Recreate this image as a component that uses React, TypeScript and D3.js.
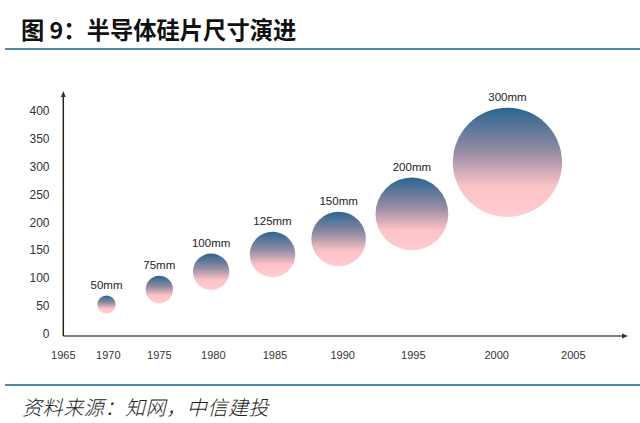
import { useEffect, useRef } from 'react';
import * as d3 from 'd3';

// x axis tick labels (years) and y axis ticks
const yearTicks = [1965, 1970, 1975, 1980, 1985, 1990, 1995, 2000, 2005];
const valueTicks = [0, 50, 100, 150, 200, 250, 300, 350, 400];

// wafer bubbles
const waferLabels = ['50mm', '75mm', '100mm', '125mm', '150mm', '200mm', '300mm'];
const waferSizes = [50, 75, 100, 125, 150, 200, 300];
const waferYears = [1969.8, 1975, 1979.8, 1984.8, 1989.7, 1994.9, 2000.7];
const waferValues = [52, 79, 111, 142, 170, 215, 308];

const title = '图 9：半导体硅片尺寸演进';
const source = '资料来源：知网，中信建投';

const width = 640;
const height = 423;

export default function App() {
  const svgRef = useRef<SVGSVGElement>(null);

  useEffect(() => {
    if (!svgRef.current) return;
    const svg = d3.select(svgRef.current);
    svg.selectAll('*').remove();

    const axisColor = '#333';
    const ruleColor = '#4f86a1';
    const numFont = 'Arial, "Liberation Sans", sans-serif';
    const cjkFont = '"Noto Sans CJK SC", sans-serif';

    svg.append('rect').attr('width', width).attr('height', height).attr('fill', '#fff');

    // the label spacing of the original axis is uneven, so the year scale is piecewise
    const x = d3.scaleLinear()
      .domain(yearTicks)
      .range([63.3, 108.3, 159.3, 213.3, 275, 342.7, 413.3, 496.7, 573.3]);

    const y = d3.scaleLinear()
      .domain([0, 400])
      .range([333.4, 111.2]);

    const r = d3.scaleLinear()
      .domain([0, 300])
      .range([0, 54.6]);

    const defs = svg.append('defs');
    const grad = defs.append('linearGradient')
      .attr('id', 'wafer')
      .attr('x1', 0).attr('y1', 0)
      .attr('x2', 0).attr('y2', 1);
    grad.append('stop').attr('offset', '0%').attr('stop-color', '#2a6691');
    grad.append('stop').attr('offset', '40%').attr('stop-color', '#958ba3');
    grad.append('stop').attr('offset', '72%').attr('stop-color', '#fcc3c7');
    grad.append('stop').attr('offset', '100%').attr('stop-color', '#ffcdd0');

    defs.append('marker')
      .attr('id', 'arrow')
      .attr('viewBox', '0 0 10 10')
      .attr('refX', 5).attr('refY', 5)
      .attr('markerWidth', 4).attr('markerHeight', 4)
      .attr('orient', 'auto')
      .append('path')
      .attr('d', 'M0,1L10,5L0,9Z')
      .attr('fill', axisColor);

    // title + rules
    svg.append('text')
      .attr('x', 21)
      .attr('y', 39)
      .style('font-family', cjkFont)
      .style('font-size', '23.3px')
      .style('font-weight', 'bold')
      .style('fill', '#111')
      .text(title);

    svg.append('line')
      .attr('x1', 5).attr('x2', width)
      .attr('y1', 49).attr('y2', 49)
      .attr('stroke', ruleColor)
      .attr('stroke-width', 2);

    svg.append('line')
      .attr('x1', 5).attr('x2', width)
      .attr('y1', 385).attr('y2', 385)
      .attr('stroke', ruleColor)
      .attr('stroke-width', 2);

    svg.append('text')
      .attr('x', 22)
      .attr('y', 415)
      .style('font-family', cjkFont)
      .style('font-size', '20px')
      .style('font-style', 'italic')
      .style('font-weight', 300)
      .style('letter-spacing', '0.6px')
      .style('fill', '#222')
      .text(source);

    // axes
    const baseY = y(0) + 2.6;
    svg.append('line')
      .attr('x1', x(1965)).attr('x2', 625)
      .attr('y1', baseY).attr('y2', baseY)
      .attr('stroke', '#555')
      .attr('stroke-width', 1.5)
      .attr('marker-end', 'url(#arrow)');

    svg.append('line')
      .attr('x1', x(1965)).attr('x2', x(1965))
      .attr('y1', baseY).attr('y2', 94)
      .attr('stroke', '#222')
      .attr('stroke-width', 1.5)
      .attr('marker-end', 'url(#arrow)');

    svg.append('g')
      .selectAll('text')
      .data(valueTicks)
      .enter().append('text')
      .attr('x', 49.5)
      .attr('y', d => y(d))
      .attr('dy', '0.35em')
      .attr('text-anchor', 'end')
      .style('font-family', numFont)
      .style('font-size', '12px')
      .style('fill', axisColor)
      .text(d => d);

    svg.append('g')
      .selectAll('text')
      .data(yearTicks)
      .enter().append('text')
      .attr('x', d => x(d))
      .attr('y', 359)
      .attr('text-anchor', 'middle')
      .style('font-family', numFont)
      .style('font-size', '11px')
      .style('fill', axisColor)
      .text(d => d);

    // bubbles
    const bubbles = svg.append('g')
      .selectAll('g')
      .data(waferSizes.map((s, i) => ({ size: s, year: waferYears[i], value: waferValues[i], label: waferLabels[i] })))
      .enter().append('g');

    bubbles.append('circle')
      .attr('cx', d => x(d.year))
      .attr('cy', d => y(d.value))
      .attr('r', d => r(d.size))
      .attr('fill', 'url(#wafer)');

    bubbles.append('text')
      .attr('x', d => x(d.year))
      .attr('y', d => y(d.value) - r(d.size) - 6.5)
      .attr('text-anchor', 'middle')
      .style('font-family', numFont)
      .style('font-size', '11.5px')
      .style('fill', '#222')
      .text(d => d.label);
  }, []);

  return (
    <svg
      ref={svgRef}
      width={width}
      height={height}
      style={{ position: 'absolute', left: 0, top: 0, display: 'block' }}
    />
  );
}
